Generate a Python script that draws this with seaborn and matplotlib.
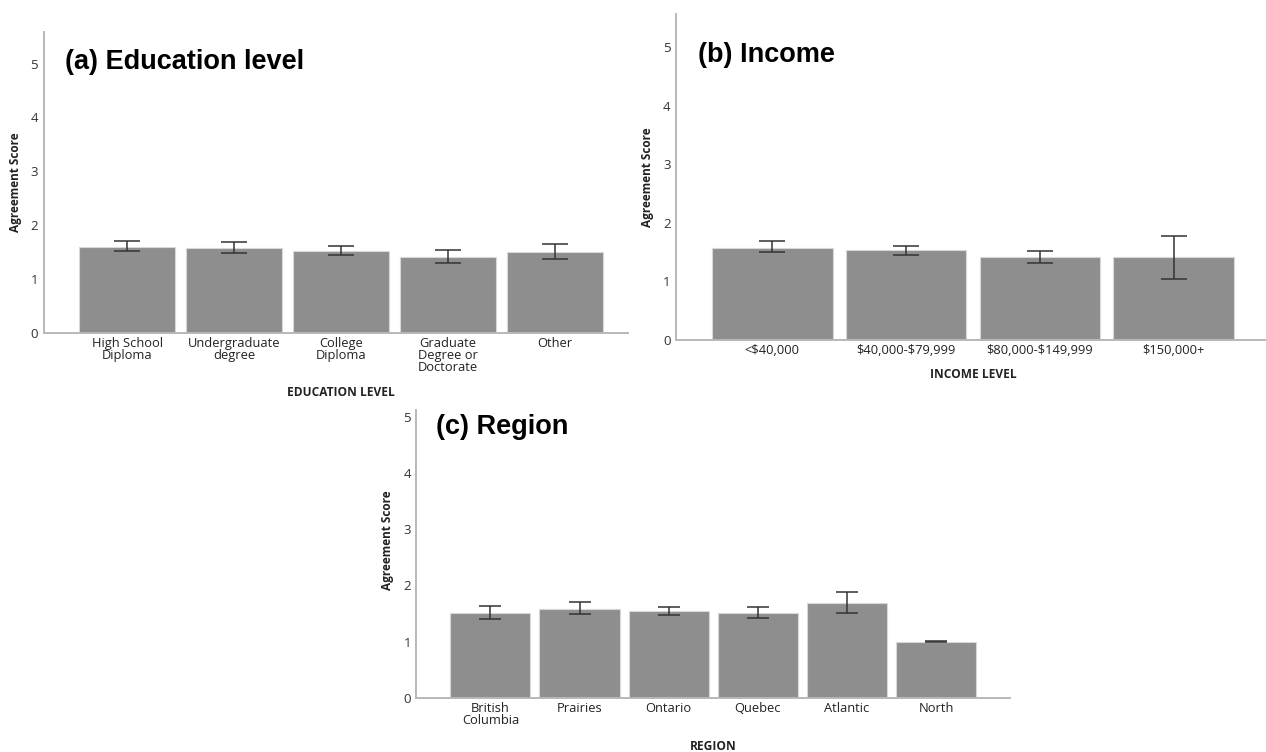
import matplotlib
matplotlib.use("Agg")
import matplotlib.pyplot as plt
import seaborn as sns
import numpy as np
import pandas as pd

# ---- data ----
edu_labels = ["High School\nDiploma", "Undergraduate\ndegree", "College\nDiploma",
              "Graduate\nDegree or\nDoctorate", "Other"]
edu_means = [1.60, 1.58, 1.53, 1.41, 1.51]
edu_lo = [1.52, 1.48, 1.45, 1.29, 1.37]
edu_hi = [1.71, 1.69, 1.61, 1.54, 1.66]

inc_labels = ["<$40,000", "$40,000-$79,999", "$80,000-$149,999", "$150,000+"]
inc_means = [1.58, 1.53, 1.41, 1.41]
inc_lo = [1.50, 1.45, 1.32, 1.05]
inc_hi = [1.69, 1.61, 1.52, 1.78]

reg_labels = ["British\nColumbia", "Prairies", "Ontario", "Quebec", "Atlantic", "North"]
reg_means = [1.51, 1.58, 1.54, 1.51, 1.69, 1.00]
reg_lo = [1.40, 1.49, 1.47, 1.41, 1.51, 1.00]
reg_hi = [1.64, 1.70, 1.61, 1.62, 1.88, 1.005]

yticks = [0, 1, 2, 3, 4, 5]

sns.set_theme(style="white")
plt.rcParams['font.family'] = ['Open Sans', 'DejaVu Sans']
plt.rcParams['text.parse_math'] = False

W, H = 1266, 752
fig = plt.figure(figsize=(W / 100, H / 100), dpi=100)

BAR = "#8e8e8e"
EDGE = "#d8d8d8"
SPINE = "#b8b8b8"
ERR = "#333333"


def px_axes(left, right, top, bottom):
    return fig.add_axes([left / W, 1 - bottom / H, (right - left) / W, (bottom - top) / H])


def panel(ax, labels, means, lo, hi, ymax, xlim, capsize, title, title_xy, xlabel, xlabel_xy, ylabel_xy, box):
    df = pd.DataFrame({"cat": labels, "val": means})
    sns.barplot(data=df, x="cat", y="val", order=labels, color=BAR, width=0.9,
                errorbar=None, edgecolor=EDGE, linewidth=0.8, saturation=1, ax=ax)
    x = np.arange(len(labels))
    m = np.array(means)
    yerr = np.vstack([m - np.array(lo), np.array(hi) - m])
    ax.errorbar(x, m, yerr=yerr, fmt="none", ecolor=ERR, elinewidth=1.1,
                capsize=capsize, capthick=1.1, zorder=5)
    ax.set_ylim(0, ymax)
    ax.set_xlim(*xlim)
    ax.set_yticks(yticks)
    ax.set_yticklabels([str(t) for t in yticks], fontsize=9.5, color="#333333")
    ax.tick_params(axis="both", length=0)
    ax.tick_params(axis="y", pad=4)
    ax.tick_params(axis="x", pad=3, labelsize=9.3, labelcolor="#222222")
    for lab in ax.get_xticklabels():
        lab.set_linespacing(0.9)
    for s in ["top", "right"]:
        ax.spines[s].set_visible(False)
    for s in ["left", "bottom"]:
        ax.spines[s].set_color(SPINE)
        ax.spines[s].set_linewidth(1.4)
    ax.set_xlabel(xlabel, fontsize=8.6, fontweight="bold", color="#222222")
    ax.set_ylabel("Agreement Score", fontsize=8.5, fontweight="bold", color="#222222")
    l, r, t, b = box
    ax.xaxis.set_label_coords((xlabel_xy[0] - l) / (r - l), (b - xlabel_xy[1]) / (b - t))
    ax.yaxis.set_label_coords((ylabel_xy[0] - l) / (r - l), (b - ylabel_xy[1]) / (b - t))
    ax.xaxis.label.set_va("center")
    ax.yaxis.label.set_va("center")
    fig.text(title_xy[0] / W, 1 - title_xy[1] / H, title, fontsize=19.5, fontweight="bold",
             family=["Liberation Sans", "DejaVu Sans"], ha="left", va="center", color="black")


# (a) Education level
box_a = (43.5, 628, 31.7, 333)
ax_a = px_axes(*box_a)
panel(ax_a, edu_labels, edu_means, edu_lo, edu_hi, 5.59, (-0.78, 4.68), 9.7,
      "(a) Education level", (65, 62), "EDUCATION LEVEL", (341, 393), (16, 182), box_a)

# (b) Income
box_b = (676, 1266, 14, 340)
ax_b = px_axes(*box_b)
panel(ax_b, inc_labels, inc_means, inc_lo, inc_hi, 5.57, (-0.72, 3.69), 9.7,
      "(b) Income", (698, 55), "INCOME LEVEL", (973, 375), (648, 177), box_b)

# (c) Region
box_c = (416.4, 1010, 410, 697.7)
ax_c = px_axes(*box_c)
panel(ax_c, reg_labels, reg_means, reg_lo, reg_hi, 5.12, (-0.83, 5.83), 7.9,
      "(c) Region", (436, 427), "REGION", (713, 746), (388, 540), box_c)

fig.savefig("out.png", dpi=100)
